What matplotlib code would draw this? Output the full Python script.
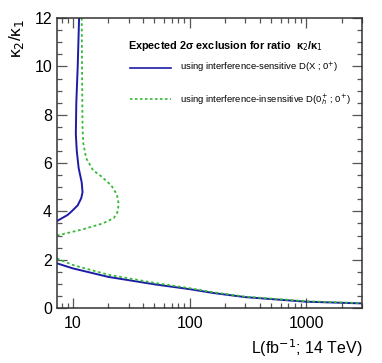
import matplotlib
matplotlib.use("agg")
import matplotlib.pyplot as plt
from matplotlib.ticker import LogLocator, MultipleLocator, NullFormatter, FixedLocator

plt.rcParams['font.family'] = ['Liberation Sans', 'DejaVu Sans']

# upper branch (kappa2/kappa1 vs luminosity), traced along y
sens_up_L = [7.3, 9.0, 9.75, 11.0, 11.8, 12.1, 11.9, 11.2, 10.8, 10.6, 10.7, 11.0, 11.3]
sens_up_k = [3.6, 3.85, 4.0, 4.25, 4.55, 4.8, 5.2, 5.8, 6.5, 7.2, 8.5, 10.0, 12.0]
insens_up_L = [7.3, 12.0, 18.0, 22.4, 24.0, 24.7, 23.8, 21.3, 17.5, 14.9, 13.0, 12.3, 12.1, 12.0, 11.9]
insens_up_k = [3.0, 3.25, 3.5, 3.72, 3.95, 4.3, 4.7, 5.08, 5.45, 5.7, 6.2, 6.8, 7.4, 9.5, 12.0]

# lower branch
low_L = [7.3, 10, 20, 50, 100, 160, 300, 1000, 3000]
sens_low_k = [1.85, 1.64, 1.29, 0.98, 0.78, 0.62, 0.45, 0.26, 0.19]
insens_low_k = [2.05, 1.78, 1.38, 1.04, 0.82, 0.65, 0.47, 0.28, 0.20]

blue = '#1c1ca6'
green = '#33bb33'

fig = plt.figure(figsize=(3.82, 3.63), dpi=100)
ax = fig.add_axes([0.149, 0.1515, 0.799, 0.7985])

ax.plot(sens_up_L, sens_up_k, color=blue, lw=1.4)
ax.plot(low_L, sens_low_k, color=blue, lw=1.4)
ax.plot(insens_up_L, insens_up_k, color=green, lw=1.3, ls=(0, (1.5, 1.5)))
ax.plot(low_L, insens_low_k, color=green, lw=1.3, ls=(0, (1.5, 1.5)))

ax.set_xscale('log')
ax.set_xlim(7.3, 3000)
ax.set_ylim(0, 12)
ax.xaxis.set_major_locator(FixedLocator([10, 100, 1000]))
ax.xaxis.set_minor_locator(LogLocator(base=10, subs=range(2, 10)))
ax.xaxis.set_minor_formatter(NullFormatter())
ax.set_xticklabels(['10', '100', '1000'])
ax.yaxis.set_major_locator(MultipleLocator(2))
ax.yaxis.set_minor_locator(MultipleLocator(0.5))

ax.tick_params(which='both', direction='in', top=True, right=True, labelsize=11.5, width=0.9, color='#555555')
ax.tick_params(which='major', length=7)
ax.tick_params(which='minor', length=3.5)
ax.tick_params(axis='x', which='major', pad=6)
for s in ax.spines.values():
    s.set_linewidth(1.1)
    s.set_color('#333333')

ax.set_xlabel(r'L(fb$^{-1}$; 14 TeV)', fontsize=11.5, ha='right', x=1.0)
ax.set_ylabel('κ$_{2}$/κ$_{1}$', fontsize=12.5, ha='right', y=1.0, labelpad=6)

ax.text(0.233, 0.905, 'Expected 2σ exclusion for ratio  κ$_{2}$/κ$_{1}$',
        transform=ax.transAxes, fontsize=7.8, fontweight='bold', va='center')
ax.plot([0.239, 0.374], [0.829, 0.829], transform=ax.transAxes, color=blue, lw=1.2)
ax.plot([0.239, 0.374], [0.72, 0.72], transform=ax.transAxes, color=green, lw=1.2, ls=(0, (1.5, 1.5)))
ax.text(0.403, 0.829, r'using interference-sensitive D(X ; 0$^{+}$)',
        transform=ax.transAxes, fontsize=6.8, va='center')
ax.text(0.403, 0.72, r'using interference-insensitive D(0$^{+}_{h}$ ; 0$^{+}$)',
        transform=ax.transAxes, fontsize=6.8, va='center')

plt.savefig('out.png', dpi=100)
plt.close(fig)
